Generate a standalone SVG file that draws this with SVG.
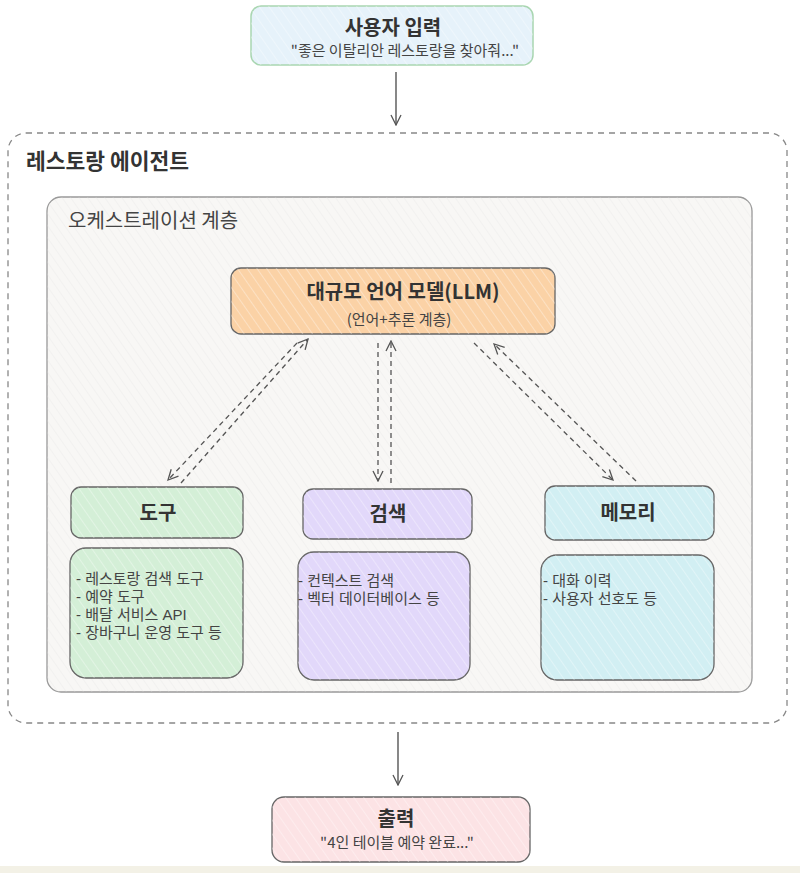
<svg xmlns="http://www.w3.org/2000/svg" width="800" height="873" viewBox="0 0 800 873">
<defs>
<style>
text{font-family:"Noto Sans CJK KR","Noto Sans",sans-serif;fill:#333}
.t{font-weight:700;font-size:20px;text-anchor:middle}
.s{font-size:15px;text-anchor:middle;fill:#444}
.d{font-family:"Liberation Sans","Noto Sans CJK KR",sans-serif;font-size:15px;fill:#444}
.box{stroke:#666;stroke-width:1.3}
.conn{fill:none;stroke:#555;stroke-width:1.3;stroke-dasharray:5 4}
.solid{fill:none;stroke:#555;stroke-width:1.4}
</style>
<pattern id="hatch" width="8" height="8" patternUnits="userSpaceOnUse" patternTransform="rotate(-35)">
<line x1="0" y1="0" x2="0" y2="8" stroke="#fff" stroke-width="1.5" stroke-opacity="0.45"/>
</pattern>
<pattern id="hatchg" width="7" height="7" patternUnits="userSpaceOnUse" patternTransform="rotate(-35)">
<line x1="0" y1="0" x2="0" y2="7" stroke="#ddd" stroke-width="1" stroke-opacity="0.5"/>
</pattern>
<marker id="ah" viewBox="0 0 12 12" refX="11" refY="6" markerWidth="12" markerHeight="12" orient="auto" markerUnits="userSpaceOnUse">
<path d="M1,1 L11,6 L1,11" fill="none" stroke="#555" stroke-width="1.3"/>
</marker>
</defs>
<rect x="0" y="0" width="800" height="873" fill="#ffffff"/>
<rect x="0" y="866" width="800" height="7" fill="#f3f1e6"/>

<g id="agent">
<rect x="8" y="133" width="779" height="590" rx="18" fill="none" stroke="#888" stroke-width="1.3" stroke-dasharray="6 5"/>
<text x="26" y="169" style="font-weight:700;font-size:21.5px">레스토랑 에이전트</text>
</g>
<g id="orchestration">
<rect x="47" y="197" width="705" height="495" rx="14" fill="#f8f7f5" stroke="#999" stroke-width="1.3"/>
<rect x="47" y="197" width="705" height="495" rx="14" fill="url(#hatchg)"/>
<text x="68" y="228" style="font-size:20px;fill:#444">오케스트레이션 계층</text>
</g>

<g id="input">
<rect x="251" y="6" width="282" height="59" rx="10" fill="#e6f2fa" stroke="#a9d6b1" stroke-width="1.5"/>
<rect x="251" y="6" width="282" height="59" rx="10" fill="url(#hatch)"/>
<text class="t" x="393" y="35">사용자 입력</text>
<text class="s" x="405" y="56">"좋은 이탈리안 레스토랑을 찾아줘..."</text>
</g>

<g id="llm">
<rect class="box" x="231" y="268" width="324" height="66" rx="10" fill="#fbd2a6" stroke="#555"/>
<rect x="231" y="268" width="324" height="66" rx="10" fill="url(#hatch)"/>
<text class="t" x="403" y="299">대규모 언어 모델(LLM)</text>
<text class="s" x="399" y="325">(언어+추론 계층)</text>
</g>

<g id="tools">
<rect class="box" x="71" y="487" width="172" height="51" rx="10" fill="#d4efd7"/>
<rect x="71" y="487" width="172" height="51" rx="10" fill="url(#hatch)"/>
<text class="t" x="158" y="520">도구</text>
</g>
<g id="tools-detail">
<rect class="box" x="70" y="548" width="173" height="130" rx="16" fill="#d4efd7"/>
<rect x="70" y="548" width="173" height="130" rx="16" fill="url(#hatch)"/>
<text class="d" x="76" y="584">- 레스토랑 검색 도구</text>
<text class="d" x="76" y="602">- 예약 도구</text>
<text class="d" x="76" y="620">- 배달 서비스 API</text>
<text class="d" x="76" y="638">- 장바구니 운영 도구 등</text>
</g>

<g id="search">
<rect class="box" x="303" y="489" width="169" height="50" rx="10" fill="#e2d8fa"/>
<rect x="303" y="489" width="169" height="50" rx="10" fill="url(#hatch)"/>
<text class="t" x="388" y="521">검색</text>
</g>
<g id="search-detail">
<rect class="box" x="298" y="552" width="172" height="128" rx="16" fill="#e2d8fa"/>
<rect x="298" y="552" width="172" height="128" rx="16" fill="url(#hatch)"/>
<text class="d" x="298" y="586">- 컨텍스트 검색</text>
<text class="d" x="298" y="604">- 벡터 데이터베이스 등</text>
</g>

<g id="memory">
<rect class="box" x="545" y="486" width="169" height="54" rx="10" fill="#d2eff3"/>
<rect x="545" y="486" width="169" height="54" rx="10" fill="url(#hatch)"/>
<text class="t" x="628" y="520">메모리</text>
</g>
<g id="memory-detail">
<rect class="box" x="541" y="555" width="173" height="125" rx="16" fill="#d2eff3"/>
<rect x="541" y="555" width="173" height="125" rx="16" fill="url(#hatch)"/>
<text class="d" x="543" y="586">- 대화 이력</text>
<text class="d" x="543" y="604">- 사용자 선호도 등</text>
</g>

<g id="output">
<rect class="box" x="272" y="797" width="258" height="65" rx="12" fill="#fce3e5"/>
<rect x="272" y="797" width="258" height="65" rx="12" fill="url(#hatch)"/>
<text class="t" x="396" y="826">출력</text>
<text class="s" x="397" y="848">"4인 테이블 예약 완료..."</text>
</g>

<g id="connectors">
<line class="solid" x1="396" y1="72" x2="396" y2="125" marker-end="url(#ah)"/>
<line class="solid" x1="398" y1="732" x2="398" y2="785" marker-end="url(#ah)"/>
<line class="conn" x1="297" y1="343" x2="168" y2="480" marker-end="url(#ah)"/>
<line class="conn" x1="181" y1="483" x2="308" y2="339" marker-end="url(#ah)"/>
<line class="conn" x1="378" y1="343" x2="378" y2="481" marker-end="url(#ah)"/>
<line class="conn" x1="391" y1="483" x2="391" y2="341" marker-end="url(#ah)"/>
<line class="conn" x1="474" y1="343" x2="613" y2="480" marker-end="url(#ah)"/>
<line class="conn" x1="636" y1="481" x2="494" y2="344" marker-end="url(#ah)"/>
</g>
</svg>
